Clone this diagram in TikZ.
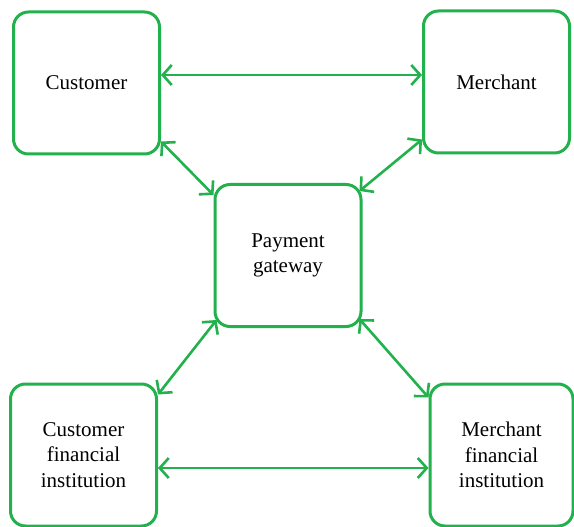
\documentclass[tikz,border=0pt]{standalone}
\usepackage{fontspec}
\setmainfont{Liberation Serif}
\usepackage{xcolor}
\usepackage{tikz}
\usetikzlibrary{arrows.meta}

\definecolor{boxgreen}{RGB}{34,177,76}

\begin{document}
\begin{tikzpicture}[x=1pt,y=-1pt,
  party/.style={draw=boxgreen,line width=3pt,rounded corners=15pt,
    minimum width=146pt,minimum height=142pt,inner sep=0pt,
    align=center,font=\fontsize{21}{25.5}\selectfont},
  link/.style={draw=boxgreen,line width=2.6pt,
    {Straight Barb[length=9pt,width=20pt]}-{Straight Barb[length=9pt,width=20pt]}}
]
\useasboundingbox (0,0) rectangle (574,527);
\node[party] (cust) at (86.5,83) {Customer};
\node[party] (merch) at (496.5,82) {Merchant};
\node[party] (gw) at (288,255.5) {Payment\\gateway};
\node[party] (custfi) at (83.5,455) {Customer\\financial\\institution};
\node[party,minimum width=143pt] (merchfi) at (501.5,455) {Merchant\\financial\\institution};

\draw[link] ([yshift=8pt]cust.east) -- ([yshift=7pt]merch.west);
\draw[link] ([yshift=14pt]cust.south east) -- ([yshift=-12pt]gw.north west);
\draw[link] ([yshift=15pt]merch.south west) -- ([xshift=-3pt,yshift=-8pt]gw.north east);
\draw[link] ([xshift=3pt,yshift=8pt]gw.south west) -- ([yshift=-12pt]custfi.north east);
\draw[link] ([xshift=-3pt,yshift=9pt]gw.south east) -- ([yshift=-15pt]merchfi.north west);
\draw[link] ([yshift=-13pt]custfi.east) -- ([yshift=-13pt]merchfi.west);
\end{tikzpicture}
\end{document}
